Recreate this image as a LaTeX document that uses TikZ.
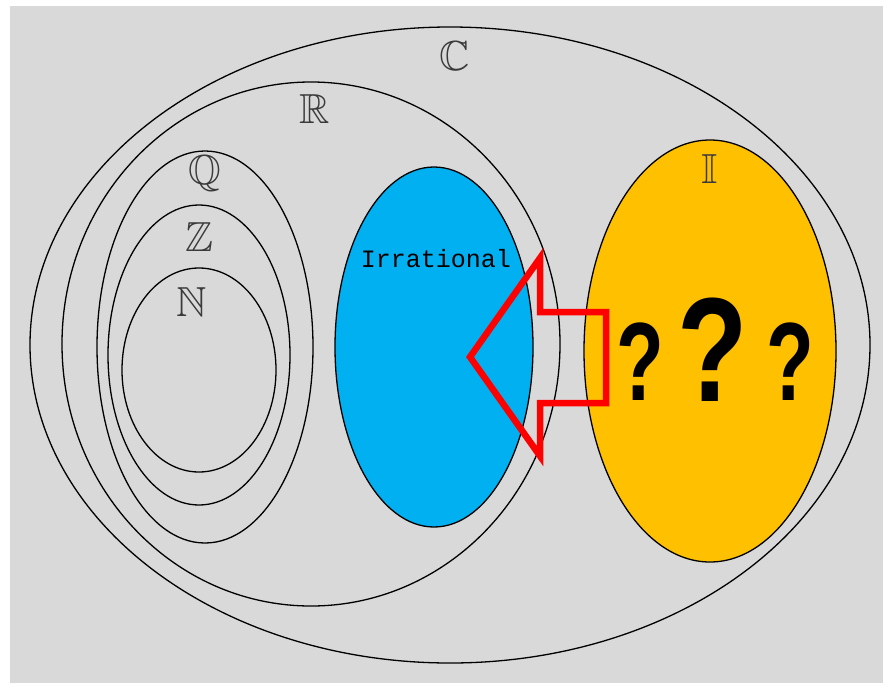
\documentclass[tikz,border=0pt]{standalone}
\usepackage{amssymb}
\usepackage{fontspec}
\newfontfamily\monofont{Liberation Mono}
\newfontfamily\qfont{Liberation Sans}
\definecolor{bggray}{HTML}{D9D9D9}
\definecolor{irrblue}{HTML}{00B0F0}
\definecolor{imyellow}{HTML}{FFC000}
\definecolor{lbl}{HTML}{3A3A3A}
\begin{document}
\begin{tikzpicture}[x=1pt,y=-1pt,
  setline/.style={draw=black,line width=1.3pt},
  setlabel/.style={text=lbl,inner sep=0pt,font=\fontsize{42}{42}\selectfont},
  qmark/.style={inner sep=0pt,font=\qfont\bfseries\fontsize{#1}{#1}\selectfont}]
\useasboundingbox (0,0) rectangle (883,683);
\fill[white] (0,0) rectangle (883,683);
\fill[bggray] (10,6) rectangle (883,683);
% sets
\draw[setline] (450,345) ellipse [x radius=420pt, y radius=318pt];
\draw[setline] (311,344) ellipse [x radius=249pt, y radius=262pt];
\draw[setline] (205,347) ellipse [x radius=108pt, y radius=196pt];
\draw[setline] (199,355) ellipse [x radius=91pt, y radius=150pt];
\draw[setline] (199,370) ellipse [x radius=77pt, y radius=102pt];
\draw[setline,fill=irrblue] (434,347) ellipse [x radius=99pt, y radius=180pt];
\draw[setline,fill=imyellow] (710,351) ellipse [x radius=126pt, y radius=211pt];
% labels
\node[setlabel] (lC) at (455,56) {$\mathbb{C}$};
\node[setlabel] (lR) at (315,109) {$\mathbb{R}$};
\node[setlabel] (lQ) at (205,174) {$\mathbb{Q}$};
\node[setlabel] (lZ) at (199,237) {$\mathbb{Z}$};
\node[setlabel] (lN) at (192,302) {$\mathbb{N}$};
\node[setlabel] (lI) at (710,169) {$\mathbb{I}$};
\node[inner sep=0pt,font=\monofont\fontsize{25}{25}\selectfont] (irr) at (436,259) {Irrational};
% question marks
\node[qmark=104] (q1) at (640,362) {\scalebox{0.75}[1.07]{?}};
\node[qmark=144] (q2) at (713,350) {\scalebox{0.8}[1.03]{?}};
\node[qmark=104] (q3) at (790,362) {\scalebox{0.75}[1.07]{?}};
% arrow
\draw[red,line width=6.5pt,miter limit=10,line join=miter]
  (470,357) -- (540,258) -- (540,312) -- (606,312) -- (606,403) -- (540,403) -- (540,456) -- cycle;
\end{tikzpicture}
\end{document}
